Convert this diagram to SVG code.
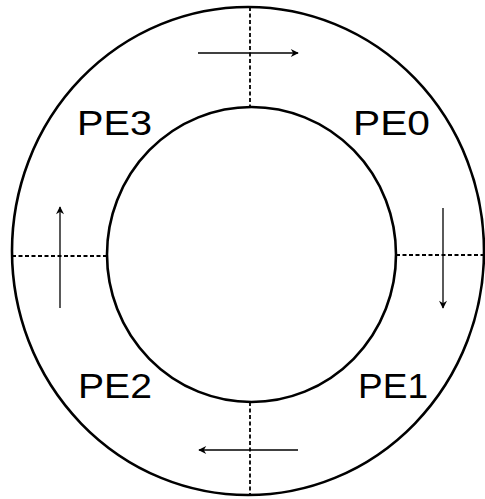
<svg xmlns="http://www.w3.org/2000/svg" width="485" height="499" viewBox="0 0 485 499">
<defs>
<style>
.ring{fill:none;stroke:#000;stroke-width:2.6}
.div{stroke:#000;stroke-width:1.8;stroke-dasharray:4,2.5;fill:none}
.arr{stroke:#000;stroke-width:1.3;fill:none;marker-end:url(#ah)}
.lbl{font-family:"Liberation Sans",Arial,sans-serif;font-size:35px;fill:#000}
</style>
<marker id="ah" viewBox="0 0 10 10" refX="9" refY="5" markerWidth="10" markerHeight="8" markerUnits="userSpaceOnUse" orient="auto">
<path d="M0,0 L10,5 L0,10 L3,5 Z" fill="#000"/>
</marker>
</defs>
<rect width="485" height="499" fill="#fff"/>
<g id="ring">
<ellipse class="ring" cx="248" cy="251" rx="236" ry="244"/>
<ellipse class="ring" cx="251.5" cy="254.5" rx="144.5" ry="147.5"/>
</g>
<g id="connectors">
<line class="div" x1="250" y1="7" x2="250" y2="107"/>
<line class="div" x1="250" y1="402" x2="250" y2="495"/>
<line class="div" x1="12" y1="256" x2="107" y2="256"/>
<line class="div" x1="396" y1="255" x2="483" y2="255"/>
<line class="arr" x1="198" y1="53" x2="298" y2="53"/>
<line class="arr" x1="443" y1="208" x2="443" y2="308"/>
<line class="arr" x1="298" y1="450" x2="199" y2="450"/>
<line class="arr" x1="60" y1="308" x2="60" y2="207"/>
</g>
<g id="PE3"><text class="lbl" x="77" y="135" textLength="75" lengthAdjust="spacingAndGlyphs">PE3</text></g>
<g id="PE0"><text class="lbl" x="353" y="135" textLength="77" lengthAdjust="spacingAndGlyphs">PE0</text></g>
<g id="PE2"><text class="lbl" x="78" y="398" textLength="74" lengthAdjust="spacingAndGlyphs">PE2</text></g>
<g id="PE1"><text class="lbl" x="358" y="398" textLength="70" lengthAdjust="spacingAndGlyphs">PE1</text></g>
</svg>
